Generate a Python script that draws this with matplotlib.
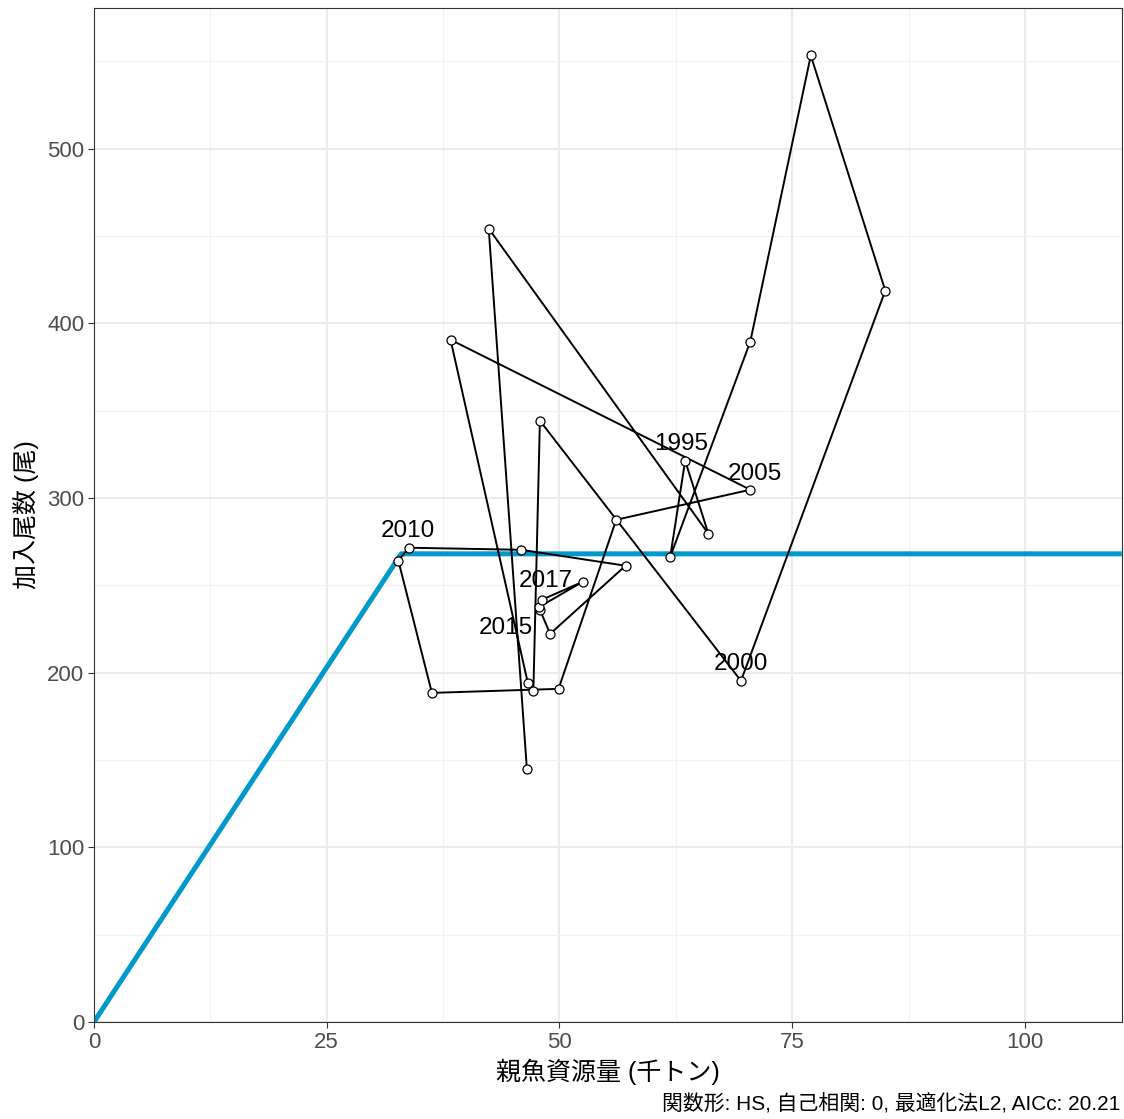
import numpy as np
import matplotlib
matplotlib.use("Agg")
import matplotlib.pyplot as plt

plt.rcParams['font.family'] = ['Liberation Sans', 'Noto Sans CJK JP']

# spawning stock biomass (thousand t) and recruitment, by year
years = list(range(1992, 2018))
ssb = [46.5, 42.4, 66.0, 63.5, 61.9, 70.5, 77.0, 85.0, 69.5, 47.9,
       47.2, 46.6, 38.3, 70.5, 56.1, 49.9, 36.3, 32.7, 33.8, 45.9,
       57.1, 49.0, 47.9, 47.8, 52.5, 48.1]
rec = [144.9, 454.2, 279.5, 321.3, 266.3, 389.5, 553.3, 418.7, 195.3, 344.2,
       189.6, 194.2, 390.6, 304.7, 287.5, 190.7, 188.4, 264.0, 271.5, 270.3,
       261.2, 222.2, 236.0, 237.5, 252.0, 241.7]

# hockey-stick fit: breakpoint and plateau
hs_b = 33.0
hs_r = 268.0
hs_x = [0, hs_b, 110.4]
hs_y = [0, hs_r, hs_r]

labelled = [1995, 2000, 2005, 2010, 2015, 2017]
# label offsets in pixels (dx, dy)
label_off = {1995: (-4, 17), 2000: (0, 17), 2005: (5, 16), 2010: (-1, 17),
             2015: (-33, -21), 2017: (4, 19)}

caption = "関数形: HS, 自己相関: 0, 最適化法L2, AICc: 20.21"

fig = plt.figure(figsize=(11.24, 11.19), dpi=100)
ax = fig.add_axes([0.0836, 0.0867, 0.9144, 0.9062])

ax.set_xlim(0, 110.4)
ax.set_ylim(0, 580.5)
ax.set_xticks([0, 25, 50, 75, 100])
ax.set_yticks([0, 100, 200, 300, 400, 500])
ax.set_xticks(np.arange(12.5, 110, 25), minor=True)
ax.set_yticks(np.arange(50, 580, 100), minor=True)
ax.grid(which='major', color='#EBEBEB', linewidth=1.4)
ax.grid(which='minor', color='#F2F2F2', linewidth=0.8)
ax.set_axisbelow(True)
ax.tick_params(which='minor', length=0)
ax.tick_params(which='major', length=4, width=0.8, color='#333333',
               labelsize=16, labelcolor='#4D4D4D', pad=3)
for s in ax.spines.values():
    s.set_color('#333333')
    s.set_linewidth(0.8)

ax.plot(hs_x, hs_y, color='#0099CC', linewidth=3.6, solid_capstyle='butt',
        zorder=2)
ax.plot(ssb, rec, color='black', linewidth=1.4, zorder=3)
ax.plot(ssb, rec, linestyle='none', marker='o', markersize=6.5,
        markerfacecolor='white', markeredgecolor='black',
        markeredgewidth=0.9, zorder=4)

for yr in labelled:
    i = years.index(yr)
    dx, dy = label_off[yr]
    ax.annotate(str(yr), (ssb[i], rec[i]), xytext=(dx, dy),
                textcoords='offset pixels', ha='center', va='center',
                fontsize=17.5, color='black', zorder=5)

ax.set_xlabel("親魚資源量 (千トン)", fontsize=18, labelpad=4)
ax.set_ylabel("加入尾数 (尾)", fontsize=18, labelpad=6)
fig.text(0.997, 0.005, caption, ha='right', va='bottom', fontsize=15)

fig.savefig("out.png", dpi=100)
